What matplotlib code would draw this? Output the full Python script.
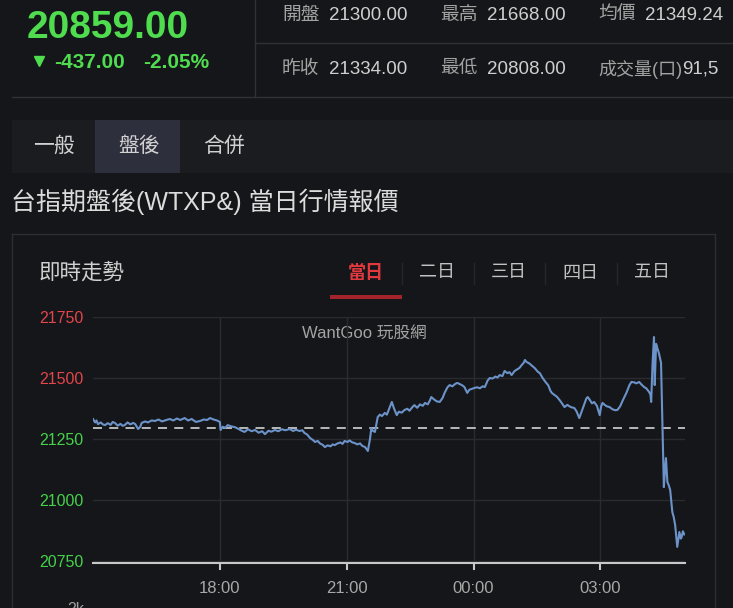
import matplotlib
matplotlib.use("Agg")
import matplotlib.pyplot as plt
from matplotlib.patches import Rectangle

plt.rcParams['font.family'] = ['Liberation Sans', 'Noto Sans CJK TC', 'DejaVu Sans']

# quote header
last_price = "20859.00"
change = "-437.00"
change_pct = "-2.05%"
ref_price = 21296          # 20859 + 437
info_row1 = [("開盤", "21300.00"), ("最高", "21668.00"), ("均價", "21349.24")]
info_row2 = [("昨收", "21334.00"), ("最低", "20808.00"), ("成交量(口)", "91,5")]
main_tabs = ["一般", "盤後", "合併"]
page_title = "台指期盤後(WTXP&) 當日行情報價"
range_tabs = ["當日", "二日", "三日", "四日", "五日"]

# intraday trace (night session 15:00 - 05:00)
times = [
    "15:00", "15:03", "15:05", "15:07", "15:11", "15:14", "15:17", "15:21", "15:25", "15:28",
    "15:31", "15:35", "15:39", "15:42", "15:45", "15:49", "15:53", "15:57",
    "16:00", "16:04", "16:07", "16:09", "16:14", "16:18", "16:23", "16:28", "16:33", "16:38",
    "16:44", "16:49", "16:54", "16:59",
    "17:04", "17:10", "17:15", "17:20", "17:26", "17:32", "17:37", "17:42", "17:46", "17:51", "17:56",
    "18:00", "18:01", "18:04", "18:08", "18:11", "18:16", "18:21", "18:26", "18:31", "18:35",
    "18:40", "18:45", "18:50", "18:55",
    "19:00", "19:04", "19:09", "19:13", "19:18", "19:23", "19:28", "19:33", "19:39", "19:44",
    "19:48", "19:53", "19:57",
    "20:00", "20:04", "20:08", "20:12", "20:15", "20:19", "20:22", "20:26", "20:29", "20:33",
    "20:37", "20:40", "20:43", "20:47", "20:51", "20:54", "20:57",
    "21:01", "21:04", "21:08", "21:11", "21:15", "21:19", "21:22", "21:26", "21:30", "21:33",
    "21:35", "21:37", "21:40", "21:42", "21:44", "21:47", "21:50", "21:54", "21:57",
    "22:00", "22:04", "22:07", "22:11", "22:14", "22:18", "22:22", "22:26", "22:29", "22:33",
    "22:36", "22:40", "22:44", "22:48", "22:51", "22:55", "22:58",
    "23:00", "23:04", "23:08", "23:12", "23:16", "23:19", "23:23", "23:26", "23:30", "23:34",
    "23:37", "23:41", "23:44", "23:47", "23:51", "23:54", "23:58",
    "00:01", "00:05", "00:09", "00:13", "00:16", "00:20", "00:23", "00:27", "00:31", "00:34",
    "00:37", "00:41", "00:44", "00:48", "00:51", "00:54", "00:58",
    "01:01", "01:05", "01:08", "01:11", "01:13", "01:15", "01:19", "01:23", "01:27", "01:31",
    "01:34", "01:38", "01:42", "01:46", "01:49", "01:51", "01:55", "01:58",
    "02:02", "02:05", "02:09", "02:13", "02:16", "02:19", "02:23", "02:26", "02:30", "02:33",
    "02:37", "02:40", "02:42", "02:45", "02:48", "02:51", "02:55", "02:59",
    "03:01", "03:03", "03:06", "03:09", "03:13", "03:17", "03:21", "03:24", "03:28", "03:31",
    "03:34", "03:37", "03:41", "03:44", "03:48", "03:51", "03:55", "03:58",
    "04:02", "04:05", "04:09", "04:11", "04:12", "04:14", "04:15", "04:16", "04:17", "04:19",
    "04:21", "04:23", "04:26", "04:28", "04:29", "04:30", "04:32", "04:33", "04:35", "04:37",
    "04:39", "04:42", "04:44", "04:46", "04:48", "04:49", "04:51", "04:52", "04:54", "04:55",
    "04:57", "04:59",
]
prices = [
    21332, 21318, 21326, 21311, 21318, 21310, 21307, 21315, 21308, 21320,
    21316, 21305, 21312, 21304, 21307, 21318, 21310, 21316,
    21311, 21291, 21300, 21316, 21322, 21318, 21326, 21324, 21330, 21322,
    21328, 21332, 21326, 21334,
    21328, 21336, 21326, 21332, 21320, 21324, 21330, 21328, 21336, 21330, 21326,
    21320, 21287, 21300, 21296, 21307, 21302, 21299, 21292, 21284, 21279,
    21290, 21282, 21287, 21276,
    21282, 21270, 21284, 21280, 21287, 21282, 21290, 21286, 21291, 21283,
    21288, 21283, 21286,
    21275, 21268, 21254, 21246, 21238, 21242, 21232, 21226, 21217, 21224,
    21220, 21228, 21225, 21232, 21236, 21230, 21242,
    21238, 21244, 21236, 21234, 21228, 21232, 21222, 21217, 21201, 21250,
    21295, 21284, 21279, 21310, 21340, 21350, 21344, 21357, 21350,
    21372, 21402, 21376, 21348, 21362, 21358, 21369, 21374, 21366, 21380,
    21389, 21378, 21392, 21386, 21398, 21392, 21408,
    21422, 21412, 21404, 21402, 21418, 21440, 21462, 21471, 21466, 21476,
    21480, 21474, 21470, 21463, 21439, 21452, 21456,
    21459, 21462, 21458, 21466, 21463, 21490, 21500, 21498, 21506, 21502,
    21512, 21508, 21529, 21520, 21524, 21512, 21528,
    21534, 21541, 21552, 21562, 21574, 21566, 21560, 21550, 21540, 21526,
    21520, 21500, 21484, 21470, 21448, 21439, 21430, 21424,
    21410, 21398, 21381, 21390, 21384, 21380, 21377, 21364, 21336, 21360,
    21392, 21416, 21422, 21410, 21396, 21402, 21386, 21348,
    21384, 21398, 21390, 21384, 21381, 21372, 21368, 21369, 21384, 21404,
    21422, 21440, 21470, 21484, 21482, 21478, 21484, 21474,
    21463, 21458, 21443, 21432, 21402, 21560, 21615, 21668, 21471, 21640,
    21620, 21602, 21562, 21300, 21172, 21053, 21140, 21172, 21074, 21060,
    21041, 20951, 20930, 20898, 20840, 20808, 20850, 20869, 20842, 20846,
    20872, 20859,
]

y_ticks = [20750, 21000, 21250, 21500, 21750]
x_tick_labels = ["18:00", "21:00", "00:00", "03:00"]


def to_minutes(s):
    h, m = s.split(":")
    t = int(h) * 60 + int(m) - 15 * 60
    if t < 0:
        t += 1440
    return t


W, H = 733, 608
BG = "#151619"
fig = plt.figure(figsize=(W / 100, H / 100), dpi=100, facecolor=BG)

# page layer in pixel coordinates
bg = fig.add_axes([0, 0, 1, 1])
bg.set_xlim(0, W)
bg.set_ylim(H, 0)
bg.axis("off")

line_c = "#303136"
bg.plot([255, 255], [0, 97], color=line_c, lw=1)
bg.plot([255, W], [43, 43], color=line_c, lw=1)
bg.plot([12, W], [97, 97], color=line_c, lw=1)

green = "#4fdc4f"
bg.text(27, 28, last_price, color=green, fontsize=28, fontweight="bold", va="center")
bg.plot([39], [61], marker="v", color=green, markersize=7, ls="none")
bg.text(54, 62, change, color=green, fontsize=15, fontweight="bold", va="center")
bg.text(143, 62, change_pct, color=green, fontsize=15, fontweight="bold", va="center")

for row_y, row in [(15, info_row1), (69, info_row2)]:
    for i, (lab, val) in enumerate(row):
        x0 = 282 + i * 158
        long_label = len(lab) > 2
        bg.text(x0, row_y, lab, color="#a3a3a3", fontsize=13 if long_label else 13.5,
                va="center")
        vx = x0 + 84 if long_label else x0 + 47
        bg.text(vx, row_y, val, color="#cfcfcf", fontsize=13.5, va="center")

# tab bar
bg.add_patch(Rectangle((12, 120), W - 12, 53, color="#1b1c20", lw=0))
bg.add_patch(Rectangle((95, 120), 85, 53, color="#2d303c", lw=0))
for i, t in enumerate(main_tabs):
    bg.text(33 + i * 85, 146, t, color="#d2d2d2", fontsize=15, va="center")

bg.text(11, 202, page_title, color="#dcdcdc", fontsize=18, va="center")

# chart panel
bg.plot([12, 715, 715], [234, 234, H], color="#2e2f33", lw=1)
bg.plot([12, 12], [234, H], color="#2e2f33", lw=1)
bg.text(39, 273, "即時走勢", color="#d0d0d0", fontsize=15.5, va="center")
for i, t in enumerate(range_tabs):
    cx = 366 + i * 71.5
    col = "#e2393f" if i == 0 else "#c2c2c2"
    bg.text(cx, 273, t, color=col, fontsize=13, ha="center", va="center",
            fontweight="bold" if i == 0 else "normal")
    if i > 0:
        sx = cx - 35.5
        bg.plot([sx, sx], [263, 284], color="#26272b", lw=1)
bg.add_patch(Rectangle((330, 295), 72, 4, color="#a3252b", lw=0))
bg.text(302, 333, "WantGoo 玩股網", color="#a4a4a4", fontsize=12, va="center")
bg.text(84, 609, "2k", color="#a0a0a0", fontsize=11.5, ha="right", va="center")

# price chart
ax_left, ax_right, ax_top, ax_bot = 93, 685, 317, 563
ax = fig.add_axes([ax_left / W, (H - ax_bot) / H, (ax_right - ax_left) / W, (ax_bot - ax_top) / H])
ax.set_facecolor("none")
x = [to_minutes(t) for t in times]
ax.set_xlim(0, 840)
ax.set_ylim(20742, 21750)
for s in ["top", "right", "left"]:
    ax.spines[s].set_visible(False)
ax.spines["bottom"].set_color("#c8c8c8")
ax.spines["bottom"].set_linewidth(1.5)
ax.set_xticks([to_minutes(t) for t in x_tick_labels])
ax.set_xticklabels(x_tick_labels)
ax.set_yticks(y_ticks)
ax.set_yticklabels([str(v) for v in y_ticks])
ax.tick_params(axis="x", colors="#c8c8c8", labelcolor="#a8a8a8", length=5, width=1.5,
               labelsize=12, pad=8)
ax.tick_params(axis="y", length=0, labelsize=11.5, pad=7)
for lab, v in zip(ax.get_yticklabels(), y_ticks):
    lab.set_color("#e2454b" if v > ref_price else "#45d24a")
ax.grid(True, color="#2a2b2f", lw=1)
ax.set_axisbelow(True)
ax.axhline(ref_price, color="#c4c4c4", lw=1.3, dashes=(5, 4))
ax.plot(x, prices, color="#6c93c9", lw=1.5, solid_joinstyle="round")

fig.savefig("out.png", dpi=100, facecolor=BG)
